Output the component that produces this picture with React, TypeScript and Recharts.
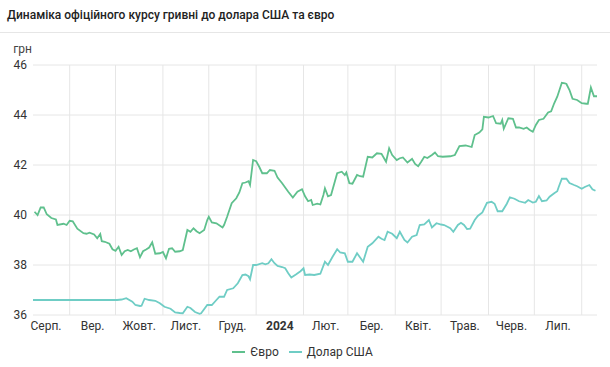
import React from "react"
import { LineChart, Line, XAxis, YAxis, CartesianGrid, ReferenceLine, Legend } from "recharts"

// days counted from 8 Aug 2023
const euroDays = [1, 3, 5, 7, 9, 12, 15, 16, 20, 22, 24, 26, 29, 33, 35, 37, 40, 42, 44, 45, 47, 50, 52, 54, 56, 58, 60, 62, 64, 66, 68, 70, 72, 74, 76, 78, 80, 83, 85, 87, 89, 91, 93, 96, 98, 101, 103, 105, 107, 109, 112, 114, 115, 117, 120, 124, 125, 127, 130, 133, 135, 137, 139, 141, 142, 144, 146, 148, 150, 153, 155, 158, 160, 163, 167, 170, 173, 176, 178, 180, 182, 183, 186, 188, 190, 191, 193, 195, 199, 202, 204, 205, 207, 209, 212, 214, 216, 219, 222, 225, 228, 231, 233, 235, 238, 240, 242, 245, 248, 250, 252, 254, 256, 258, 261, 263, 265, 268, 273, 276, 279, 283, 287, 289, 292, 294, 295, 298, 301, 303, 306, 307, 308, 311, 314, 316, 318, 321, 323, 325, 327, 329, 331, 334, 337, 339, 341, 343, 346, 348, 349, 351, 353, 356, 359, 362, 363, 365, 367, 369]
const euroValues = [40.13, 40.0, 40.3, 40.3, 40.03, 39.88, 39.82, 39.6, 39.65, 39.6, 39.77, 39.75, 39.45, 39.27, 39.25, 39.29, 39.22, 39.07, 39.24, 38.95, 38.93, 38.85, 38.63, 38.57, 38.73, 38.4, 38.55, 38.6, 38.55, 38.62, 38.67, 38.31, 38.55, 38.62, 38.7, 38.91, 38.45, 38.47, 38.52, 38.27, 38.65, 38.67, 38.53, 38.55, 38.6, 39.4, 39.33, 39.47, 39.35, 39.27, 39.4, 39.8, 39.93, 39.7, 39.67, 39.5, 39.6, 39.93, 40.47, 40.67, 40.9, 41.27, 41.3, 41.35, 41.2, 42.2, 42.15, 41.93, 41.67, 41.67, 41.8, 41.77, 41.5, 41.27, 40.93, 40.7, 40.93, 41.03, 40.75, 40.55, 40.6, 40.4, 40.45, 40.42, 40.8, 41.07, 40.75, 40.8, 41.67, 41.73, 41.6, 41.7, 41.27, 41.25, 41.6, 41.55, 41.53, 42.33, 42.3, 42.47, 42.45, 42.13, 42.67, 42.4, 42.2, 42.27, 42.3, 42.1, 42.25, 42.04, 41.95, 42.13, 42.33, 42.28, 42.4, 42.5, 42.35, 42.33, 42.35, 42.4, 42.76, 42.78, 42.72, 43.2, 43.3, 43.43, 43.93, 43.9, 43.96, 43.67, 43.65, 43.8, 43.45, 43.87, 43.85, 43.5, 43.5, 43.45, 43.5, 43.4, 43.33, 43.6, 43.8, 43.85, 44.1, 44.15, 44.47, 44.73, 45.29, 45.27, 45.24, 45.0, 44.65, 44.6, 44.47, 44.45, 44.45, 45.1, 44.75, 44.75]

const usdDays = [0, 18, 55, 58, 61, 65, 67, 70, 71, 73, 76, 80, 83, 86, 90, 93, 96, 98, 101, 103, 106, 109, 110, 114, 117, 120, 122, 125, 127, 131, 134, 137, 139, 141, 142, 144, 146, 150, 152, 154, 156, 158, 160, 163, 165, 167, 169, 172, 175, 177, 178, 181, 184, 188, 191, 193, 196, 199, 201, 204, 206, 209, 212, 214, 216, 219, 222, 226, 228, 230, 232, 235, 238, 240, 243, 245, 248, 251, 253, 256, 259, 261, 264, 267, 269, 273, 275, 278, 280, 282, 284, 286, 289, 291, 294, 297, 300, 302, 304, 307, 310, 312, 315, 318, 322, 324, 327, 329, 331, 333, 336, 338, 341, 343, 344, 346, 349, 351, 354, 356, 359, 361, 364, 366, 368]
const usdValues = [36.6, 36.6, 36.6, 36.62, 36.67, 36.53, 36.4, 36.36, 36.37, 36.65, 36.6, 36.57, 36.47, 36.33, 36.25, 36.1, 36.08, 36.07, 36.33, 36.28, 36.12, 36.05, 36.07, 36.4, 36.4, 36.6, 36.73, 36.73, 37.0, 37.07, 37.27, 37.6, 37.62, 37.55, 37.43, 38.0, 38.0, 38.07, 38.03, 38.07, 38.23, 38.07, 37.96, 37.92, 37.87, 37.67, 37.5, 37.62, 37.75, 37.87, 37.6, 37.62, 37.6, 37.65, 38.13, 38.0, 38.33, 38.63, 38.5, 38.47, 38.13, 38.13, 38.47, 38.3, 38.13, 38.73, 38.87, 39.13, 39.05, 39.0, 39.33, 39.25, 39.07, 39.33, 39.0, 38.9, 39.13, 39.2, 39.6, 39.62, 39.8, 39.5, 39.67, 39.62, 39.6, 39.47, 39.33, 39.6, 39.69, 39.6, 39.44, 39.45, 39.8, 39.96, 40.1, 40.49, 40.53, 40.45, 40.15, 40.15, 40.45, 40.71, 40.65, 40.55, 40.49, 40.6, 40.5, 40.53, 40.76, 40.55, 40.58, 40.73, 40.87, 40.95, 41.13, 41.45, 41.45, 41.28, 41.2, 41.15, 41.05, 41.12, 41.2, 41.03, 40.97]

const monthStarts = [24, 54, 85, 115, 146, 177, 206, 237, 267, 298, 328, 359]
const monthMids = [8.5, 39, 69.5, 100, 130.5, 161.5, 191.5, 221.5, 252, 282.5, 313, 343.5]
const monthLabels = ["Серп.", "Вер.", "Жовт.", "Лист.", "Груд.", "2024", "Лют.", "Бер.", "Квіт.", "Трав.", "Черв.", "Лип."]
const yTicks = [36, 38, 40, 42, 44, 46]

const EURO_COLOR = "#5fc08d"
const USD_COLOR = "#6fcdc5"

const euroData = euroDays.map((d, i) => ({ day: d, value: euroValues[i] }))
const usdData = usdDays.map((d, i) => ({ day: d, value: usdValues[i] }))

const MonthTick = (props: any) => {
  const { x, y, payload } = props
  const idx = monthMids.indexOf(payload.value)
  const label = monthLabels[idx] ?? ""
  return (
    <text x={x} y={y} dy="0.71em" textAnchor="middle" fontSize={12} fill="#333"
      fontWeight={label === "2024" ? 700 : 400}>
      {label}
    </text>
  )
}

const LegendContent = () => (
  <div style={{ height: 30, display: "flex", justifyContent: "center", alignItems: "center", fontSize: 12, color: "#333", paddingLeft: 8 }}>
    {[{ name: "Євро", color: EURO_COLOR }, { name: "Долар США", color: USD_COLOR }].map((it, i) => (
      <div key={it.name} style={{ display: "flex", alignItems: "center", marginLeft: i ? 10 : 0 }}>
        <div style={{ width: 13, height: 2, background: it.color, marginRight: 5 }} />
        <span>{it.name}</span>
      </div>
    ))}
  </div>
)

export default function App() {
  return (
    <div style={{ position: "absolute", left: 0, top: 0, width: 610, height: 367, fontFamily: "Roboto, sans-serif", background: "#fff" }}>
      <div style={{ position: "absolute", left: 7, top: 8, fontSize: 12, fontWeight: 500, color: "#222", whiteSpace: "nowrap" }}>
        Динаміка офіційного курсу гривні до долара США та євро
      </div>
      <div style={{ position: "absolute", left: 0, top: 32, width: 610, height: 1, background: "#e6e6e6" }} />
      <LineChart width={610} height={367} margin={{ top: 65, right: 13, bottom: 0, left: 0 }}
        style={{ fontFamily: "Roboto, sans-serif" }}>
        <CartesianGrid vertical={false} stroke="#e6e6e6" />
        {monthStarts.map((d) => (
          <ReferenceLine key={d} x={d} stroke="#e6e6e6" />
        ))}
        <XAxis dataKey="day" type="number" domain={[0, 369]} ticks={monthMids} interval={0}
          tick={<MonthTick />} tickLine={false} axisLine={false} tickSize={4} tickMargin={2} height={22}
          allowDuplicatedCategory={false} />
        <YAxis domain={[36, 46]} ticks={yTicks} width={33} tickLine={false} axisLine={false}
          tickSize={0} tickMargin={6} allowDataOverflow
          tick={{ fontSize: 12, fill: "#333" }}
          label={{ value: "грн", position: "top", offset: 12, dx: 6, fill: "#444", fontSize: 12 }} />
        <Legend verticalAlign="bottom" content={<LegendContent />} />
        <Line data={euroData} dataKey="value" name="Євро" type="linear" stroke={EURO_COLOR}
          strokeWidth={1.8} dot={false} isAnimationActive={false} />
        <Line data={usdData} dataKey="value" name="Долар США" type="linear" stroke={USD_COLOR}
          strokeWidth={1.8} dot={false} isAnimationActive={false} />
      </LineChart>
    </div>
  )
}
